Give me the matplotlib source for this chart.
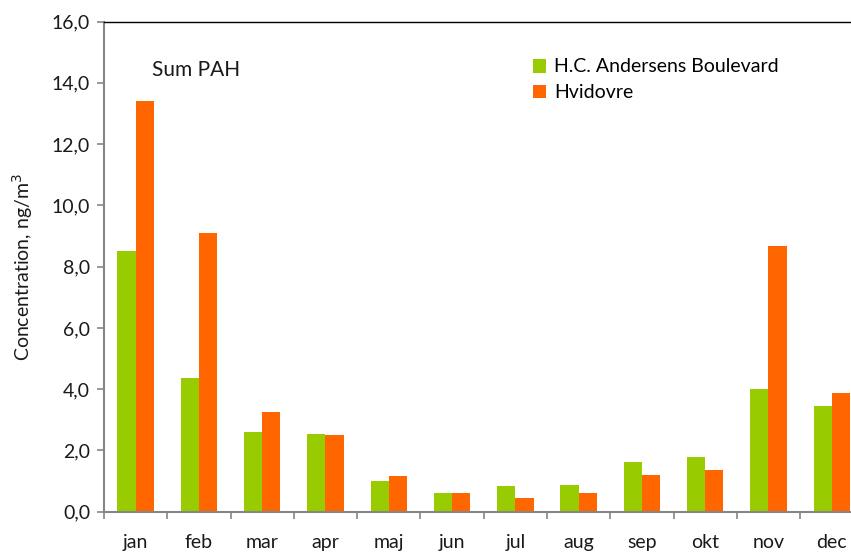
import numpy as np
import matplotlib
matplotlib.use('Agg')
import matplotlib.pyplot as plt
from matplotlib.ticker import FuncFormatter, MultipleLocator

plt.rcParams['font.family'] = ['Lato', 'DejaVu Sans']

# Monthly sum PAH, ng/m3
months = ['jan', 'feb', 'mar', 'apr', 'maj', 'jun',
          'jul', 'aug', 'sep', 'okt', 'nov', 'dec']
hca_blvd = [8.52, 4.38, 2.60, 2.55, 0.99, 0.61, 0.83, 0.88, 1.63, 1.79, 4.00, 3.45]
hvidovre = [13.40, 9.10, 3.25, 2.50, 1.16, 0.61, 0.46, 0.61, 1.20, 1.36, 8.68, 3.89]

GREEN = '#99cc00'
ORANGE = '#ff6600'
AXIS_GREY = '#868686'
TEXT = '#1a1a1a'

fig = plt.figure(figsize=(8.51, 5.53), dpi=100)
# plot area runs a little past the right edge of the picture, as in the original
ax = fig.add_axes([104 / 851, 41.3 / 553, (863.4 - 104) / 851, (511.7 - 21.5) / 553])

x = np.arange(len(months))
w = 0.287
ax.bar(x - w / 2, hca_blvd, width=w, color=GREEN, label='H.C. Andersens Boulevard', zorder=2)
ax.bar(x + w / 2, hvidovre, width=w, color=ORANGE, label='Hvidovre', zorder=2)

ax.set_xlim(-0.5, len(months) - 0.5)
ax.set_ylim(0, 16)
ax.yaxis.set_major_locator(MultipleLocator(2))
ax.yaxis.set_major_formatter(FuncFormatter(lambda v, p: f'{v:.1f}'.replace('.', ',')))

# category labels centred, tick marks between categories
ax.set_xticks(x)
ax.set_xticklabels(months)
ax.set_xticks(np.arange(-0.5, len(months) + 0.5, 1), minor=True)
ax.tick_params(axis='x', which='major', length=0, pad=16, labelsize=14, labelcolor=TEXT)
ax.tick_params(axis='x', which='minor', length=5, width=1.2, color=AXIS_GREY, direction='out')
ax.tick_params(axis='y', length=5, width=1.2, color=AXIS_GREY, direction='out',
               pad=5, labelsize=14, labelcolor=TEXT)

for side in ['left', 'bottom']:
    ax.spines[side].set_color(AXIS_GREY)
    ax.spines[side].set_linewidth(1.5)
ax.spines['top'].set_color('black')
ax.spines['top'].set_linewidth(1.0)
ax.spines['right'].set_visible(False)

ax.set_ylabel('Concentration, ng/m$^3$', fontsize=14, color=TEXT, labelpad=12)

fig.text(152 / 851, 1 - 70 / 553, 'Sum PAH', fontsize=15, color=TEXT,
         va='center', ha='left')

ax.legend(loc='upper left', bbox_to_anchor=(515 / 851, 1 - 41 / 553),
          bbox_transform=fig.transFigure, frameon=False, fontsize=14,
          handlelength=0.7, handleheight=0.7, handletextpad=0.4, labelspacing=0.45)

fig.savefig('out.png', dpi=100)
